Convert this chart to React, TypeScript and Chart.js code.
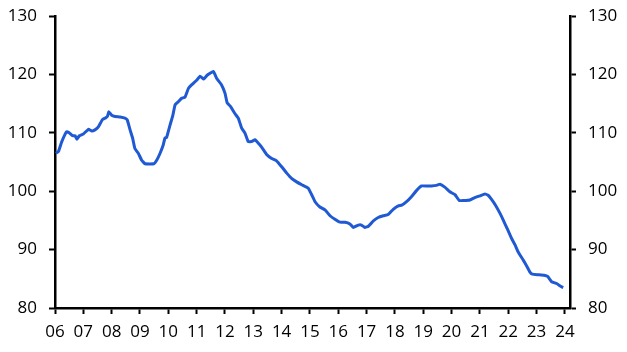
import React, { useEffect, useRef } from "react";
import { Chart, registerables } from "chart.js";

Chart.register(...registerables);

// Decimal-year dates and index values
const dates: number[] = [
  2006.03, 2006.12, 2006.24, 2006.41, 2006.5, 2006.62, 2006.71, 2006.77, 2006.86, 2007.0,
  2007.18, 2007.3, 2007.41, 2007.53, 2007.68, 2007.8, 2007.85, 2007.9, 2008.0, 2008.12,
  2008.3, 2008.47, 2008.55, 2008.65, 2008.74, 2008.82, 2008.94, 2009.06, 2009.18, 2009.49,
  2009.59, 2009.71, 2009.82, 2009.88, 2009.94, 2010.06, 2010.16, 2010.24, 2010.35, 2010.47,
  2010.59, 2010.71, 2010.82, 2011.0, 2011.12, 2011.25, 2011.38, 2011.59, 2011.71, 2011.88,
  2012.0, 2012.08, 2012.2, 2012.35, 2012.47, 2012.59, 2012.71, 2012.82, 2012.94, 2013.06,
  2013.18, 2013.3, 2013.47, 2013.65, 2013.82, 2014.0, 2014.18, 2014.35, 2014.53, 2014.71,
  2014.94, 2015.06, 2015.18, 2015.35, 2015.53, 2015.71, 2015.88, 2016.06, 2016.24, 2016.41,
  2016.53, 2016.71, 2016.82, 2016.94, 2017.06, 2017.24, 2017.41, 2017.59, 2017.76, 2017.94,
  2018.12, 2018.24, 2018.41, 2018.59, 2018.76, 2018.94, 2019.12, 2019.29, 2019.47, 2019.59,
  2019.76, 2019.94, 2020.12, 2020.27, 2020.41, 2020.65, 2020.82, 2021.0, 2021.18, 2021.29,
  2021.41, 2021.55, 2021.71, 2021.82, 2021.98, 2022.12, 2022.24, 2022.35, 2022.53, 2022.65,
  2022.76, 2022.85, 2023.06, 2023.27, 2023.39, 2023.53, 2023.71, 2023.82, 2023.94,
];

const values: number[] = [
  106.5, 106.8, 108.5, 110.2, 110.0, 109.5, 109.5, 108.9, 109.5, 109.8,
  110.6, 110.3, 110.5, 111.0, 112.3, 112.6, 112.8, 113.6, 113.0, 112.8,
  112.7, 112.5, 112.2, 110.5, 109.1, 107.3, 106.5, 105.3, 104.7, 104.7,
  105.3, 106.5, 107.9, 109.1, 109.2, 111.3, 113.0, 114.8, 115.3, 115.9,
  116.1, 117.6, 118.2, 119.0, 119.7, 119.2, 119.9, 120.5, 119.3, 118.2,
  116.8, 115.1, 114.5, 113.3, 112.5, 110.8, 109.9, 108.5, 108.5, 108.8,
  108.2, 107.5, 106.3, 105.6, 105.2, 104.2, 103.1, 102.2, 101.6, 101.1,
  100.5, 99.4, 98.2, 97.3, 96.8, 95.8, 95.2, 94.7, 94.7, 94.4,
  93.8, 94.2, 94.2, 93.8, 94.0, 94.9, 95.5, 95.8, 96.0, 96.9,
  97.5, 97.6, 98.2, 99.1, 100.1, 100.9, 100.9, 100.9, 101.0, 101.2,
  100.7, 99.9, 99.4, 98.4, 98.4, 98.5, 98.9, 99.2, 99.5, 99.3,
  98.6, 97.6, 96.2, 95.1, 93.4, 91.9, 90.8, 89.6, 88.2, 87.2,
  86.2, 85.8, 85.7, 85.6, 85.4, 84.5, 84.2, 83.8, 83.5,
];

const yearTicks: number[] = [
  2006, 2007, 2008, 2009, 2010, 2011, 2012, 2013, 2014, 2015,
  2016, 2017, 2018, 2019, 2020, 2021, 2022, 2023, 2024,
];
const yTicks: number[] = [80, 90, 100, 110, 120, 130];

const X_MIN = 2006;
const X_MAX = 2024.18;
const Y_MIN = 80;
const Y_MAX = 130;

const FONT = { family: "'Open Sans', sans-serif", size: 17 };
const LINE_COLOR = "#1f59d3";

export default function App() {
  const ref = useRef<HTMLCanvasElement | null>(null);

  useEffect(() => {
    if (!ref.current) return;
    const points = dates.map((d, i) => ({ x: d, y: values[i] }));
    const yAxisCommon = (position: "left" | "right", width: number) => ({
      type: "linear" as const,
      position,
      min: Y_MIN,
      max: Y_MAX,
      afterBuildTicks: (scale: any) => {
        scale.ticks = yTicks.map((v) => ({ value: v }));
      },
      afterFit: (scale: any) => {
        scale.width = width;
        scale.paddingTop = 0;
        scale.paddingBottom = 0;
      },
      grid: {
        display: true,
        drawOnChartArea: false,
        drawTicks: true,
        tickLength: 6,
        tickWidth: 2,
        tickColor: "#000",
        color: "#000",
      },
      border: { display: true, color: "#000", width: 2.5 },
      ticks: {
        color: "#000",
        font: FONT,
        padding: 12,
        callback: (v: any) => String(v),
      },
    });

    const chart = new Chart(ref.current, {
      type: "line",
      data: {
        datasets: [
          {
            data: points,
            borderColor: LINE_COLOR,
            borderWidth: 3,
            pointRadius: 0,
            tension: 0.1,
            fill: false,
            yAxisID: "y",
            xAxisID: "x",
          },
        ],
      },
      options: {
        responsive: false,
        animation: false,
        layout: { padding: { top: 16, left: 0, right: 0, bottom: 0 } },
        plugins: {
          legend: { display: false },
          tooltip: { enabled: false },
          title: { display: false },
        },
        scales: {
          x: {
            type: "linear",
            position: "bottom",
            min: X_MIN,
            max: X_MAX,
            afterBuildTicks: (scale: any) => {
              scale.ticks = yearTicks.map((v) => ({ value: v }));
            },
            afterFit: (scale: any) => {
              scale.height = 44;
              scale.paddingLeft = 0;
              scale.paddingRight = 0;
            },
            grid: {
              display: true,
              drawOnChartArea: false,
              drawTicks: true,
              tickLength: 6,
              tickWidth: 2,
              tickColor: "#000",
              color: "#000",
            },
            border: { display: true, color: "#000", width: 2.5 },
            ticks: {
              color: "#000",
              font: FONT,
              padding: 8,
              autoSkip: false,
              maxRotation: 0,
              minRotation: 0,
              callback: (v: any) => String(Math.round(Number(v)) % 100).padStart(2, "0"),
            },
          },
          y: yAxisCommon("left", 55) as any,
          y2: yAxisCommon("right", 57) as any,
        },
      },
    });
    return () => chart.destroy();
  }, []);

  return (
    <div style={{ position: "absolute", left: 0, top: 0, width: 627, height: 352, background: "#fff" }}>
      <canvas ref={ref} width={627} height={352} style={{ display: "block", width: 627, height: 352 }} />
    </div>
  );
}
